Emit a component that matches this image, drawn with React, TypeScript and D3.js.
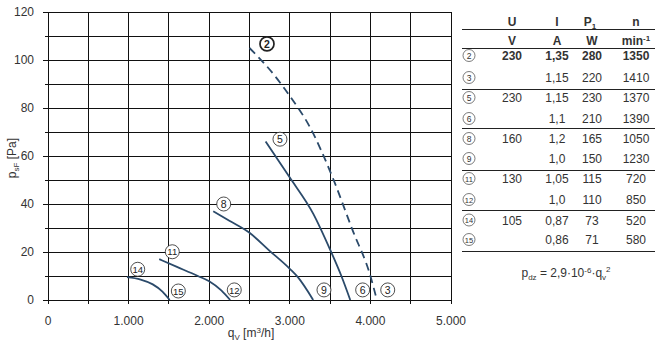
import React from 'react';
import * as d3 from 'd3';

// ---- axis ticks ----
const xGrid = d3.range(0, 5001, 500);
const xTicks = [0, 1000, 2000, 3000, 4000, 5000];
const xTickLabels = ['0', '1.000', '2.000', '3.000', '4.000', '5.000'];
const yGrid = d3.range(0, 121, 10);
const yTicks = [0, 20, 40, 60, 80, 100, 120];
const yTickLabels = ['0', '20', '40', '60', '80', '100', '120'];

// ---- curves (qV m3/h, psF Pa) ----
const curve2: [number, number][] = [[2500, 105], [2800, 94], [3000, 85], [3250, 72], [3520, 52], [3780, 29], [4000, 10], [4080, 0]];
const curve5: [number, number][] = [[2700, 66], [2850, 58.5], [3000, 51], [3290, 36], [3500, 21], [3640, 10], [3750, 0]];
const curve8: [number, number][] = [[2050, 37], [2250, 33], [2500, 28], [2750, 20.5], [3000, 13], [3100, 9.5], [3290, 0]];
const curve11: [number, number][] = [[1380, 17], [1600, 13.8], [1860, 10], [2000, 7.8], [2150, 4], [2260, 0]];
const curve14: [number, number][] = [[980, 9.5], [1150, 8.5], [1300, 6.5], [1420, 3.5], [1510, 0]];

// ---- curve labels (data coords) ----
const labelIds = ['2', '5', '8', '11', '14', '15', '12', '9', '6', '3'];
const labelQ = [2717, 2878, 2180, 1542, 1113, 1617, 2311, 3424, 3904, 4215];
const labelP = [106.7, 67, 40, 20.1, 12.8, 3.75, 4.2, 4.2, 4.2, 4.2];

// ---- table ----
const rowIds = ['2', '3', '5', '6', '8', '9', '11', '12', '14', '15'];
const colU = ['230', '', '230', '', '160', '', '130', '', '105', ''];
const colI = ['1,35', '1,15', '1,15', '1,1', '1,2', '1,0', '1,05', '1,0', '0,87', '0,86'];
const colP = ['280', '220', '230', '210', '165', '150', '115', '110', '73', '71'];
const colN = ['1350', '1410', '1370', '1390', '1050', '1230', '720', '850', '520', '580'];
const rowBaselines = [60, 82, 102, 123, 143, 163, 183, 204, 224.5, 244];
const tableLines = [29.5, 48.5, 89.5, 128.5, 170.5, 210.5, 251.5];

const W = 661, H = 343;
const LINE = '#2b4a6a';
const TXT = '#333';
const FONT = 'Liberation Sans, Arial, sans-serif';

export default function App() {
  const x = d3.scaleLinear().domain([0, 5000]).range([48, 451]);
  const y = d3.scaleLinear().domain([0, 120]).range([300, 12]);
  const line = d3.line<[number, number]>().x(d => x(d[0])).y(d => y(d[1])).curve(d3.curveMonotoneX);

  const curves = [
    { pts: curve2, dashed: true },
    { pts: curve5, dashed: false },
    { pts: curve8, dashed: false },
    { pts: curve11, dashed: false },
    { pts: curve14, dashed: false },
  ];

  const colX = { id: 469, u: 512, i: 557, p: 592, n: 636 };

  return (
    <svg width={W} height={H} style={{ position: 'absolute', left: 0, top: 0, background: '#fff' }} fontFamily={FONT}>
      <rect x={0} y={0} width={W} height={H} fill="#fff" />
      {/* grid */}
      <g stroke="#111" strokeWidth={1} shapeRendering="crispEdges">
        {xGrid.map(v => (
          <line key={'vx' + v} x1={x(v)} x2={x(v)} y1={y(120)} y2={y(0) + 4} />
        ))}
        {yGrid.map(v => (
          <line key={'hy' + v} x1={x(0) - (v % 20 === 0 ? 5 : 3)} x2={x(5000)} y1={y(v)} y2={y(v)} />
        ))}
      </g>
      {/* tick labels */}
      <g fill={TXT} fontSize={12}>
        {xTicks.map((v, i) => (
          <text key={'xt' + v} x={x(v)} y={325} textAnchor="middle">{xTickLabels[i]}</text>
        ))}
        {yTicks.map((v, i) => (
          <text key={'yt' + v} x={34} y={y(v) + 4} textAnchor="end">{yTickLabels[i]}</text>
        ))}
      </g>
      {/* axis titles */}
      <text x={251} y={337} fill={TXT} fontSize={12} textAnchor="middle">
        q<tspan dy={3} fontSize={8}>V</tspan><tspan dy={-3}> [m</tspan><tspan dy={-4} fontSize={8}>3</tspan><tspan dy={4}>/h]</tspan>
      </text>
      <text transform="translate(16,158) rotate(-90)" fill={TXT} fontSize={12} textAnchor="middle">
        p<tspan dy={3} fontSize={8}>sF</tspan><tspan dy={-3}> [Pa]</tspan>
      </text>
      {/* curves */}
      {curves.map((c, i) => (
        <path key={'c' + i} d={line(c.pts) || ''} fill="none" stroke={LINE} strokeWidth={1.8}
          strokeDasharray={c.dashed ? '8,5' : undefined} />
      ))}
      {/* curve labels */}
      {labelIds.map((id, i) => {
        const bold = id === '2';
        return (
          <g key={'l' + id} transform={`translate(${x(labelQ[i])},${y(labelP[i])})`}>
            <circle r={7} fill="#fff" stroke="#222" strokeWidth={bold ? 1.7 : 0.8} />
            <text y={3.6} textAnchor="middle" fontSize={id.length > 1 ? 9.5 : 10.5} fontWeight={bold ? 'bold' : 'normal'} fill="#222">{id}</text>
          </g>
        );
      })}
      {/* table */}
      <g fill={TXT} fontSize={12}>
        <text x={colX.u} y={26} textAnchor="middle" fontWeight="bold">U</text>
        <text x={colX.i} y={26} textAnchor="middle" fontWeight="bold">I</text>
        <text x={colX.p - 2} y={26} textAnchor="middle" fontWeight="bold">P<tspan dy={3} fontSize={8}>1</tspan></text>
        <text x={colX.n} y={26} textAnchor="middle" fontWeight="bold">n</text>
        <text x={colX.u} y={45} textAnchor="middle" fontWeight="bold">V</text>
        <text x={colX.i} y={45} textAnchor="middle" fontWeight="bold">A</text>
        <text x={colX.p} y={45} textAnchor="middle" fontWeight="bold">W</text>
        <text x={colX.n} y={45} textAnchor="middle" fontWeight="bold">min<tspan dy={-4} fontSize={8}>-1</tspan></text>
        {rowIds.map((id, i) => {
          const fw = i === 0 ? 'bold' : 'normal';
          const b = rowBaselines[i];
          return (
            <g key={'r' + id}>
              <circle cx={colX.id} cy={b - 4.5} r={6} fill="none" stroke="#444" strokeWidth={0.7} />
              <text x={colX.id} y={b - 1.5} textAnchor="middle" fontSize={id.length > 1 ? 7.5 : 8.5}>{id}</text>
              <text x={colX.u} y={b} textAnchor="middle" fontWeight={fw}>{colU[i]}</text>
              <text x={colX.i} y={b} textAnchor="middle" fontWeight={fw}>{colI[i]}</text>
              <text x={colX.p} y={b} textAnchor="middle" fontWeight={fw}>{colP[i]}</text>
              <text x={colX.n} y={b} textAnchor="middle" fontWeight={fw}>{colN[i]}</text>
            </g>
          );
        })}
        <text x={566} y={277} textAnchor="middle">
          p<tspan dy={3} fontSize={8}>dz</tspan><tspan dy={-3}> = 2,9·10</tspan><tspan dy={-4} fontSize={8}>-6</tspan><tspan dy={4}>·q</tspan><tspan dy={3} fontSize={8}>v</tspan><tspan dy={-8} fontSize={8}>2</tspan>
        </text>
      </g>
      <g stroke="#222" strokeWidth={1.2}>
        {tableLines.map((ly, i) => (
          <line key={'tl' + i} x1={462} x2={655} y1={ly} y2={ly} />
        ))}
      </g>
    </svg>
  );
}
